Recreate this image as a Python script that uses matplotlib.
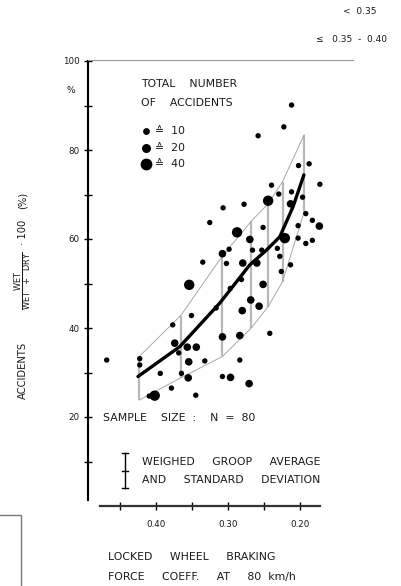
import matplotlib.pyplot as plt
from matplotlib.lines import Line2D

# single accidents points: braking force coeff, % wet accidents, total accidents class
dot_x = [0.2115, 0.2222, 0.2579, 0.2018, 0.1871, 0.1722, 0.2393, 0.2292, 0.2115, 0.1962,
         0.2440, 0.2129, 0.3065, 0.2774, 0.3250, 0.2510, 0.2871, 0.2694, 0.2208, 0.2024,
         0.1917, 0.1826, 0.1729, 0.2024, 0.1917, 0.1826, 0.3074, 0.2982, 0.3347, 0.3018,
         0.2792, 0.2597, 0.2657, 0.2528, 0.2312, 0.2278, 0.2257, 0.2129, 0.3535, 0.2810,
         0.2965, 0.2510, 0.2681, 0.2565, 0.2799, 0.3162, 0.3504, 0.3764, 0.2417, 0.3074,
         0.2833, 0.3736, 0.3562, 0.3437, 0.3681, 0.4681, 0.4222, 0.4222, 0.3542, 0.3319,
         0.2833, 0.3937, 0.3643, 0.3549, 0.3074, 0.2962, 0.2704, 0.3782, 0.4014, 0.4090,
         0.3444]
dot_y = [90.1, 85.2, 83.2, 76.5, 76.9, 72.3, 72.1, 70.1, 70.6, 69.4,
         68.6, 67.9, 67.0, 67.8, 63.7, 62.6, 61.5, 59.9, 60.2, 63.0,
         65.7, 64.2, 62.9, 60.2, 59.0, 59.7, 56.7, 57.7, 54.8, 54.5,
         54.6, 54.6, 57.5, 57.5, 57.9, 56.1, 52.7, 54.2, 49.7, 50.9,
         48.9, 49.8, 46.3, 44.9, 43.9, 44.5, 42.8, 40.7, 38.8, 38.0,
         38.3, 36.6, 35.7, 35.7, 34.4, 32.8, 33.1, 31.7, 32.4, 32.6,
         32.8, 29.8, 29.8, 28.8, 29.1, 28.9, 27.5, 26.5, 24.8, 24.7,
         24.9]
dot_n = [10, 10, 10, 10, 10, 10, 10, 10, 10, 10,
         40, 20, 10, 10, 10, 10, 40, 20, 40, 10,
         10, 10, 20, 10, 10, 10, 20, 10, 10, 10,
         20, 20, 10, 10, 10, 10, 10, 10, 40, 10,
         10, 20, 20, 20, 20, 10, 10, 10, 10, 20,
         20, 20, 20, 20, 10, 10, 10, 10, 20, 10,
         10, 10, 10, 20, 10, 20, 20, 10, 40, 10,
         10]

# weighed group averages +/- standard deviation
group_x = [0.4229, 0.3653, 0.3074, 0.2674, 0.2440, 0.2240, 0.1940]
group_hi = [33.6, 42.8, 56.2, 64.0, 67.9, 72.9, 83.4]
group_lo = [23.8, 28.8, 33.6, 40.0, 44.8, 50.4, 66.1]

# trend curve
curve_x = [0.4246, 0.3667, 0.3111, 0.2694, 0.2463, 0.2278, 0.2093, 0.1944]
curve_y = [29.1, 35.8, 45.6, 54.2, 57.5, 60.5, 67.3, 74.4]

W, H = 402, 586
fig = plt.figure(figsize=(W / 100, H / 100), dpi=100)
ax = fig.add_axes([88 / W, 1 - 506 / H, 232 / W, 445 / H])


def P(px, py):
    return px / W, 1 - py / H


ink = '#1a1a1a'
size = {10: 15, 20: 30, 40: 56}
ax.vlines(group_x, group_lo, group_hi, color='#b8b8b8', lw=1.6, zorder=1)
ax.plot(group_x, group_hi, color='#a8a8a8', lw=0.7, zorder=1)
ax.plot(group_x, group_lo, color='#a8a8a8', lw=0.7, zorder=1)
ax.scatter(dot_x, dot_y, s=[size[n] for n in dot_n], c='black', linewidths=0,
           clip_on=False, zorder=3)
ax.plot(curve_x, curve_y, color='black', lw=2.4, solid_capstyle='round', zorder=4)

ax.set_xlim(0.494, 0.172)
ax.set_ylim(0, 100)
ax.spines['right'].set_visible(False)
ax.spines['top'].set_visible(False)
ax.spines['left'].set_bounds(1.3, 100)
ax.spines['bottom'].set_bounds(0.4778, 0.172)
ax.spines['left'].set_linewidth(1.5)
ax.spines['bottom'].set_linewidth(1.6)
ax.spines['bottom'].set_color('#333333')

ax.set_xticks([0.4, 0.3, 0.2])
ax.set_xticklabels(['0.40', '0.30', '0.20'])
ax.set_xticks([0.45, 0.35, 0.25], minor=True)
ax.set_yticks([20, 40, 60, 80, 100])
ax.set_yticks([10, 30, 50, 70, 90], minor=True)
ax.tick_params(which='both', direction='inout', length=6, width=1, labelsize=6.3,
               labelcolor=ink)
ax.tick_params(axis='x', pad=7)
ax.tick_params(axis='y', pad=3)

fig.add_artist(Line2D([88 / W, 353 / W], [1 - 59.5 / H, 1 - 59.5 / H],
                      color='#9a9a9a', lw=0.8))
fig.add_artist(Line2D([0, 21 / W, 21 / W], [1 - 515 / H, 1 - 515 / H, 0],
                      color='#777777', lw=1.0))

fs = 7.8
kw = dict(fontsize=fs, va='center', color=ink)
fig.text(*P(71, 90), '%', fontsize=6.5, ha='center', va='center', color=ink)
fig.text(*P(141, 84), 'TOTAL    NUMBER', **kw)
fig.text(*P(141, 103), 'OF    ACCIDENTS', **kw)
for yy, n in [(131, 10), (148, 20), (164, 40)]:
    fig.add_artist(Line2D([146 / W], [1 - yy / H], marker='o', color='black',
                          markersize=size[n] ** 0.5, lw=0))
    fig.text(*P(155, yy), '≙  %d' % n, **kw)

fig.text(*P(103, 418), 'SAMPLE    SIZE  :    N  =  80', **kw)
fig.add_artist(Line2D([125 / W] * 2, [1 - 453 / H, 1 - 488 / H], color='black', lw=1))
for yy in (453, 471, 488):
    fig.add_artist(Line2D([122.5 / W, 127.5 / W], [1 - yy / H] * 2, color='black', lw=1))
fig.text(*P(142, 462), 'WEIGHED     GROOP     AVERAGE', **kw)
fig.text(*P(142, 480), 'AND     STANDARD     DEVIATION', **kw)

fig.text(*P(108, 557), 'LOCKED     WHEEL     BRAKING', **kw)
fig.text(*P(108, 577), 'FORCE     COEFF.     AT     80  km/h', **kw)

rkw = dict(fontsize=7.2, rotation=90, ha='center', va='center', color=ink)
fig.text(*P(23, 370), 'ACCIDENTS', **rkw)
fig.text(*P(23, 281), r'$\frac{\mathrm{WET}}{\mathrm{WET\ \ +\ \ DRY}}$', fontsize=8.5,
         rotation=90, ha='center', va='center', color=ink)
fig.text(*P(23, 232), '· 100', **rkw)
fig.text(*P(23, 200), '(%)', **rkw)

fig.text(*P(343, 12), '<  0.35', fontsize=6.5, va='center', color=ink)
fig.text(*P(316, 39), '≤   0.35  -  0.40', fontsize=6.5, va='center', color=ink)

fig.savefig('out.png', dpi=100)
